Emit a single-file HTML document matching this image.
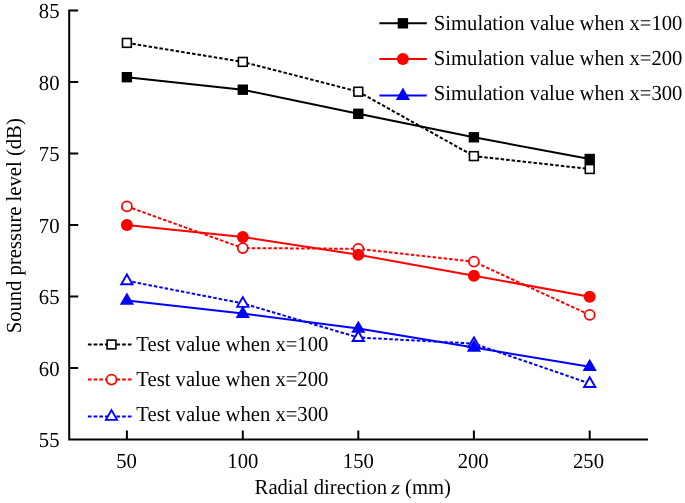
<!DOCTYPE html>
<html><head><meta charset="utf-8">
<style>
html,body{margin:0;padding:0;background:#fff;}
body{width:685px;height:503px;overflow:hidden;}
svg{display:block;will-change:transform;}
text{font-family:"Liberation Serif",serif;font-size:20.67px;fill:#000;text-rendering:geometricPrecision;}
</style></head>
<body>
<svg width="685" height="503" viewBox="0 0 685 503">
<defs>
<rect id="hs" x="-4.4" y="-4.4" width="8.8" height="8.8" fill="#fff" stroke="#000" stroke-width="1.6"/>
<rect id="fs" x="-5.2" y="-5.2" width="10.4" height="10.4" fill="#000"/>
<circle id="hc" r="5" fill="#fff" stroke="#f00" stroke-width="1.8"/>
<circle id="fc" r="6" fill="#f00"/>
<path id="ht" d="M0 -6.3 L5.6 3.5 L-5.6 3.5 Z" fill="#fff" stroke="#00f" stroke-width="1.9" stroke-linejoin="miter"/>
<path id="ft" d="M0 -8 L7.1 4.3 L-7.1 4.3 Z" fill="#00f"/>
</defs>

<g stroke="#000" stroke-width="2" fill="none">
<path d="M78.2 10.4 H69.2 V439.4 H648"/>
<path d="M69.2 81.90 H78.2 M69.2 153.40 H78.2 M69.2 224.90 H78.2 M69.2 296.40 H78.2 M69.2 367.90 H78.2"/>
<path d="M126.9 439.4 V430.5 M242.8 439.4 V430.5 M358.3 439.4 V430.5 M473.9 439.4 V430.5 M589.7 439.4 V430.5"/>
</g>
<text transform="matrix(1 0 0 1.04 59.5 18.3)" text-anchor="end">85</text>
<text transform="matrix(1 0 0 1.04 59.5 89.8)" text-anchor="end">80</text>
<text transform="matrix(1 0 0 1.04 59.5 161.3)" text-anchor="end">75</text>
<text transform="matrix(1 0 0 1.04 59.5 232.8)" text-anchor="end">70</text>
<text transform="matrix(1 0 0 1.04 59.5 304.3)" text-anchor="end">65</text>
<text transform="matrix(1 0 0 1.04 59.5 375.8)" text-anchor="end">60</text>
<text transform="matrix(1 0 0 1.04 59.5 447.3)" text-anchor="end">55</text>
<text transform="matrix(1 0 0 1.04 126.5 467.8)" text-anchor="middle">50</text>
<text transform="matrix(1 0 0 1.04 242.8 467.8)" text-anchor="middle">100</text>
<text transform="matrix(1 0 0 1.04 358.3 467.8)" text-anchor="middle">150</text>
<text transform="matrix(1 0 0 1.04 473.2 467.8)" text-anchor="middle">200</text>
<text transform="matrix(1 0 0 1.04 588.5 467.8)" text-anchor="middle">250</text>
<text transform="matrix(1 0 0 1.04 254.6 494.4)">Radial direction</text>
<text transform="matrix(1.12 0 0 0.95 391.2 494.4)" style="font-style:italic;font-size:20px">z</text>
<text transform="matrix(1 0 0 1.04 405.1 494.4)">(mm)</text>
<text transform="matrix(0 -1 1.04 0 21 225.8)" text-anchor="middle">Sound pressure level (dB)</text>
<g fill="none" stroke-width="2" stroke-dasharray="3.5 2">
<polyline stroke="#000" points="126.9,42.9 242.8,61.9 358.3,91.7 473.9,156.1 589.7,169.0"/>
<polyline stroke="#f00" points="126.9,206.4 242.8,248.1 358.3,248.8 473.9,261.7 589.7,314.9"/>
<polyline stroke="#00f" points="126.9,280.8 242.8,303.4 358.3,337.5 473.9,343.6 589.7,383.5"/>
</g>
<g fill="none" stroke-width="2">
<polyline stroke="#000" points="126.9,77.2 242.8,89.7 358.3,113.8 473.9,137.3 589.7,159.0"/>
<polyline stroke="#f00" points="126.9,224.9 242.8,237.0 358.3,254.8 473.9,275.7 589.7,296.7"/>
<polyline stroke="#00f" points="126.9,300.4 242.8,313.6 358.3,328.5 473.9,347.5 589.7,366.7"/>
</g>
<use href="#hs" x="126.9" y="42.9"/><use href="#hs" x="242.8" y="61.9"/><use href="#hs" x="358.3" y="91.7"/><use href="#hs" x="473.9" y="156.1"/><use href="#hs" x="589.7" y="169.0"/><use href="#hc" x="126.9" y="206.4"/><use href="#hc" x="242.8" y="248.1"/><use href="#hc" x="358.3" y="248.8"/><use href="#hc" x="473.9" y="261.7"/><use href="#hc" x="589.7" y="314.9"/><use href="#ht" x="126.9" y="280.8"/><use href="#ht" x="242.8" y="303.4"/><use href="#ht" x="358.3" y="337.5"/><use href="#ht" x="473.9" y="343.6"/><use href="#ht" x="589.7" y="383.5"/>
<use href="#fs" x="126.9" y="77.2"/><use href="#fs" x="242.8" y="89.7"/><use href="#fs" x="358.3" y="113.8"/><use href="#fs" x="473.9" y="137.3"/><use href="#fs" x="589.7" y="159.0"/><use href="#fc" x="126.9" y="224.9"/><use href="#fc" x="242.8" y="237.0"/><use href="#fc" x="358.3" y="254.8"/><use href="#fc" x="473.9" y="275.7"/><use href="#fc" x="589.7" y="296.7"/><use href="#ft" x="126.9" y="300.4"/><use href="#ft" x="242.8" y="313.6"/><use href="#ft" x="358.3" y="328.5"/><use href="#ft" x="473.9" y="347.5"/><use href="#ft" x="589.7" y="366.7"/>
<g stroke-width="2">
<line x1="379.4" y1="23.3" x2="426.8" y2="23.3" stroke="#000"/>
<line x1="379.4" y1="58.9" x2="426.8" y2="58.9" stroke="#f00"/>
<line x1="379.4" y1="95.6" x2="426.8" y2="95.6" stroke="#00f"/>
</g>
<use href="#fs" x="402.9" y="23.3"/>
<use href="#fc" x="402.9" y="58.9"/>
<use href="#ft" x="402.9" y="95.6"/>
<text transform="matrix(1 0 0 1.04 433.8 29.7)">Simulation value when x=100</text>
<text transform="matrix(1 0 0 1.04 433.8 65.0)">Simulation value when x=200</text>
<text transform="matrix(1 0 0 1.04 433.8 99.8)">Simulation value when x=300</text>
<g stroke-width="2" stroke-dasharray="3.7 2">
<line x1="87.9" y1="344.5" x2="132.1" y2="344.5" stroke="#000"/>
<line x1="87.9" y1="379.6" x2="132.1" y2="379.6" stroke="#f00"/>
<line x1="87.9" y1="416.4" x2="132.1" y2="416.4" stroke="#00f"/>
</g>
<use href="#hs" x="111.5" y="344.5"/>
<use href="#hc" x="111.5" y="379.6"/>
<use href="#ht" x="111.5" y="416.4"/>
<text transform="matrix(1 0 0 1.04 136.3 350.5)">Test value when x=100</text>
<text transform="matrix(1 0 0 1.04 136.3 385.5)">Test value when x=200</text>
<text transform="matrix(1 0 0 1.04 136.3 421.0)">Test value when x=300</text>
</svg>
</body></html>
